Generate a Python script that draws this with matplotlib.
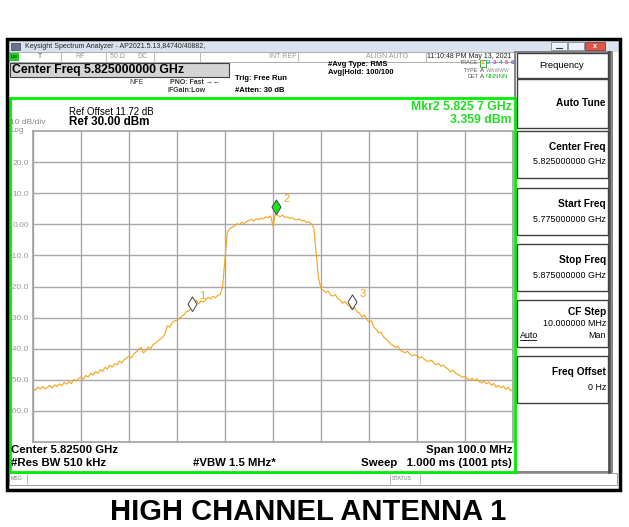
import numpy as np
import matplotlib
matplotlib.use('Agg')
import matplotlib.pyplot as plt
from matplotlib.patches import Rectangle
from matplotlib.path import Path

plt.rcParams['font.family'] = ['Liberation Sans', 'DejaVu Sans']

# trace, 0.5 MHz steps from 5.775 to 5.875 GHz (dBm)
start_ghz = 5.775
stop_ghz = 5.875
level_dbm = [
    -52.8, -53.4, -52.3, -53.0, -52.1, -52.9, -52.5, -51.8, -52.7, -51.6,
    -52.2, -51.3, -51.9, -50.8, -51.4, -50.6, -51.2, -49.9, -50.4, -49.5,
    -49.2, -49.8, -48.6, -49.1, -47.9, -48.5, -47.4, -47.9, -46.8, -47.3,
    -46.0, -46.5, -45.3, -45.9, -44.8, -45.2, -44.0, -44.6, -43.5, -42.9,
    -42.4, -42.9, -41.6, -41.1, -40.2, -39.6, -41.4, -40.6, -39.5, -39.9,
    -38.8, -38.2, -37.6, -36.9, -36.4, -35.2, -32.6, -33.1, -31.6, -31.0,
    -30.9, -30.2, -29.6, -29.0, -28.0, -27.8, -26.8, -26.2, -24.4, -25.6,
    -24.6, -25.0, -24.2, -23.5, -24.0, -23.2, -23.6, -22.8, -22.6, -20.0,
    -11.0, -2.5, -1.4, -0.9, -0.5, 0.2, -0.1, 0.6, 0.3, 0.9,
    1.2, 1.6, 1.0, 1.8, 1.5, 2.0, 1.7, 2.4, 2.1, 2.7,
    -0.6, 3.36, 2.8, 2.5, 2.9, 2.2, 2.4, 1.9, 2.1, 1.6,
    1.4, 1.7, 1.0, 1.2, 0.6, 0.8, 0.1, -1.2, -9.5, -17.5,
    -20.6, -21.3, -21.9, -21.5, -22.8, -23.1, -22.6, -23.9, -24.3, -25.4,
    -24.8, -25.9, -26.5, -27.4, -26.8, -28.1, -28.6, -29.8, -29.2, -30.6,
    -31.4, -31.0, -33.0, -33.8, -35.0, -34.6, -36.2, -36.8, -37.6, -38.4,
    -38.9, -39.6, -39.2, -40.5, -40.9, -41.3, -40.8, -41.7, -42.3, -41.9,
    -42.2, -43.0, -42.6, -43.4, -43.9, -44.1, -43.7, -44.6, -45.2, -44.8,
    -45.6, -45.3, -46.1, -46.6, -47.5, -46.9, -47.8, -48.3, -48.7, -49.2,
    -48.8, -49.6, -50.2, -49.5, -50.3, -49.7, -50.6, -51.0, -50.4, -51.3,
    -50.8, -51.7, -51.2, -52.3, -51.8, -52.6, -52.0, -53.1, -52.4, -53.6,
    -52.9,
]
freq_ghz = np.linspace(start_ghz, stop_ghz, len(level_dbm))

marker_ids = ['1', '2', '3']
marker_freq = [5.8081, 5.8257, 5.8415]
marker_level = [-27.9, 3.359, -27.3]
marker_fill = ['white', '#1ee61e', 'white']

y_ticks = [20, 10, 0, -10, -20, -30, -40, -50, -60]
y_tick_labels = ['20.0', '10.0', '0.00', '-10.0', '-20.0', '-30.0', '-40.0', '-50.0', '-60.0']

softkeys = [
    ('Center Freq', '5.825000000 GHz', 131),
    ('Start Freq', '5.775000000 GHz', 188),
    ('Stop Freq', '5.875000000 GHz', 244),
    ('Freq Offset', '0 Hz', 356),
]

W, H = 629, 527
trace_col = '#f5a31a'
mkr_green = '#22dd22'

fig = plt.figure(figsize=(W / 100, H / 100), dpi=100)
fig.patch.set_facecolor('white')

# background layer in pixel coordinates (y grows downward)
bg = fig.add_axes([0, 0, 1, 1])
bg.set_xlim(0, W)
bg.set_ylim(H, 0)
bg.axis('off')


def box(x, y, w, h, fc='white', ec='#808080', lw=1.0, z=1):
    bg.add_patch(Rectangle((x, y), w, h, facecolor=fc, edgecolor=ec, linewidth=lw, zorder=z))


def txt(x, y, s, size=6, color='black', bold=False, ha='left', **kw):
    bg.text(x, y, s, fontsize=size, color=color, ha=ha, va='center',
            fontweight='bold' if bold else 'normal', zorder=5, **kw)


# window title bar
box(8, 40, 611, 12, fc='#d9e3ef', ec='none')
box(11, 42.5, 9, 7, fc='#6f6f8f', ec='#404060', lw=0.5, z=2)
txt(25, 46.5, 'Keysight Spectrum Analyzer - AP2021.5.13,84740/40882,', size=5, color='#222222')
box(551, 42, 16, 8, fc='#eef2f8', ec='#7a8aa0', lw=0.6, z=2)
box(568, 42, 16, 8, fc='#eef2f8', ec='#7a8aa0', lw=0.6, z=2)
box(585, 42, 20, 8, fc='#d8584a', ec='#8a3a30', lw=0.6, z=2)
bg.plot([556, 562], [48, 48], color='#333333', lw=0.8, zorder=3)
txt(595, 46, 'x', size=5, color='white', bold=True, ha='center')

# status row
box(9, 52, 508, 10, fc='white', ec='#a0a0a0', lw=0.6)
box(10, 53, 9, 8, fc='#22cc22', ec='none', z=2)
txt(14.5, 57, 'LXI', size=3.2, color='#003300', bold=True, ha='center')
for sx in [61, 106, 154, 200, 298, 426]:
    bg.plot([sx, sx], [52, 62], color='#b0b0b0', lw=0.6, zorder=2)
txt(40, 57, 'T', size=5, color='#555555', ha='center')
txt(80, 57, 'RF', size=5, color='#999999', ha='center')
txt(117, 57, '50 \u03a9', size=5, color='#999999', ha='center')
txt(142, 57, 'DC', size=5, color='#999999', ha='center')
txt(283, 57, 'INT REF', size=5, color='#999999', ha='center')
txt(387, 57, 'ALIGN AUTO', size=5, color='#999999', ha='center')
txt(469, 57, '11:10:48 PM May 13, 2021', size=5, color='#222222', ha='center')

# center freq banner
box(10, 62.5, 219, 14, fc='#d4d4d4', ec='#404040', lw=0.8)
txt(12, 69.5, 'Center Freq 5.825000000 GHz', size=8.8, bold=True)

txt(129, 82, 'NFE', size=5, color='#333333')
txt(170, 82, 'PNO: Fast \u2192\u2190', size=5, bold=True, color='#333333')
txt(168, 91, 'IFGain:Low', size=5, bold=True, color='#333333')
txt(235, 79, 'Trig: Free Run', size=5.5, bold=True)
txt(235, 90, '#Atten: 30 dB', size=5.5, bold=True)
txt(328, 65, '#Avg Type: RMS', size=5.5, bold=True)
txt(328, 73, 'Avg|Hold: 100/100', size=5.5, bold=True)

# trace table
txt(478, 63, 'TRACE', size=4, color='#555555', ha='right')
txt(478, 70, 'TYPE', size=4, color='#555555', ha='right')
txt(478, 77, 'DET', size=4, color='#555555', ha='right')
box(479.5, 59.5, 6, 7, fc='white', ec='#22aa22', lw=0.6, z=2)
for k, c in enumerate(['#e39400', '#18b8f0', '#e030e0', '#30b030', '#f05090', '#8050f0']):
    txt(482.5 + k * 6, 63, str(k + 1), size=4.5, color=c, bold=True, ha='center')
txt(480, 70, 'A', size=4.5, color='#333333')
txt(486, 70, 'WWWWW', size=3.6, color='#888888')
txt(480, 77, 'A', size=4.5, color='#333333')
txt(486, 77, 'NNNNN', size=4.5, color='#22bb22')

# right softkey panel
box(515, 52, 97, 420, fc='white', ec='#707070', lw=1.2)
bg.plot([609, 609], [52, 472], color='#505050', lw=2, zorder=2)
box(517, 53, 91, 25, fc='white', ec='#404040', lw=1.0, z=2)
txt(562, 65.5, 'Frequency', size=6.8, ha='center')
box(517, 79, 91, 49, fc='white', ec='#404040', lw=1.0, z=2)
txt(606, 103, 'Auto Tune', size=7.3, bold=True, ha='right')
for title, value, top in softkeys:
    box(517, top, 91, 47, fc='white', ec='#404040', lw=1.0, z=2)
    txt(606, top + 16, title, size=7.3, bold=True, ha='right')
    txt(606, top + 31, value, size=6.4, ha='right')
box(517, 300, 91, 47, fc='white', ec='#404040', lw=1.0, z=2)
txt(606, 312, 'CF Step', size=7.3, bold=True, ha='right')
txt(606, 323, '10.000000 MHz', size=6.4, ha='right')
txt(520, 335, 'Auto', size=6.4, ha='left')
bg.plot([520, 536], [339.5, 339.5], color='black', lw=0.6, zorder=5)
txt(606, 335, 'Man', size=6.4, ha='right')

# green display frame
box(9.5, 97.5, 505, 374, fc='white', ec='#00ee00', lw=2, z=1.5)

txt(69, 112, 'Ref Offset 11.72 dB', size=7)
txt(69, 122, 'Ref 30.00 dBm', size=8.4, bold=True)
txt(10, 122, '10 dB/div', size=6, color='#888888')
txt(10, 130.5, 'Log', size=5.8, color='#888888')
txt(512, 107, 'Mkr2 5.825 7 GHz', size=8.8, bold=True, color=mkr_green, ha='right')
txt(512, 120, '3.359 dBm', size=8.8, bold=True, color=mkr_green, ha='right')

txt(11, 450, 'Center 5.82500 GHz', size=8.2, bold=True)
txt(11, 462.5, '#Res BW 510 kHz', size=8.2, bold=True)
txt(193, 462.5, '#VBW 1.5 MHz*', size=8.2, bold=True)
txt(512, 450, 'Span 100.0 MHz', size=8.2, bold=True, ha='right')
txt(512, 462.5, 'Sweep   1.000 ms (1001 pts)', size=8.2, bold=True, ha='right')

# message row
box(9, 472.5, 608, 12, fc='white', ec='#909090', lw=0.6)
for sx in [27, 390, 420]:
    bg.plot([sx, sx], [472.5, 484.5], color='#b0b0b0', lw=0.6, zorder=2)
txt(11, 478.5, 'MSG', size=3.8, color='#777777')
txt(392, 478.5, 'STATUS', size=3.8, color='#777777')

# outer instrument frame
box(7, 39, 613, 451, fc='none', ec='black', lw=2.5, z=4)

txt(308, 512, 'HIGH CHANNEL ANTENNA 1', size=21, bold=True, ha='center')

# spectrum graticule
ax = fig.add_axes([33 / W, 1 - 442 / H, 480 / W, 311 / H])
ax.set_facecolor('white')
ax.set_xlim(start_ghz, stop_ghz)
ax.set_ylim(-70, 30)
ax.set_xticks(np.linspace(start_ghz, stop_ghz, 11))
ax.set_xticklabels([])
ax.set_yticks(y_ticks)
ax.set_yticklabels(y_tick_labels)
ax.tick_params(length=0, labelsize=6, labelcolor='#999999', pad=3)
ax.grid(True, color='#a8a8a8', linewidth=1)
for s in ax.spines.values():
    s.set_color('#a0a0a0')
    s.set_linewidth(1.2)

ax.plot(freq_ghz, level_dbm, color=trace_col, linewidth=0.8)

diamond = Path([(0, 0), (0.62, 1), (0, 2), (-0.62, 1), (0, 0)],
               [Path.MOVETO, Path.LINETO, Path.LINETO, Path.LINETO, Path.CLOSEPOLY])
for mid, mf, ml, fc in zip(marker_ids, marker_freq, marker_level, marker_fill):
    ax.plot([mf], [ml], marker=diamond, markersize=21, markerfacecolor=fc,
            markeredgecolor='#404040', markeredgewidth=0.7, linestyle='none', zorder=4)
    ax.annotate(mid, (mf, ml), xytext=(5, 11), textcoords='offset points',
                color=trace_col, fontsize=8, va='center', ha='left')

fig.savefig('out.png', dpi=100)
